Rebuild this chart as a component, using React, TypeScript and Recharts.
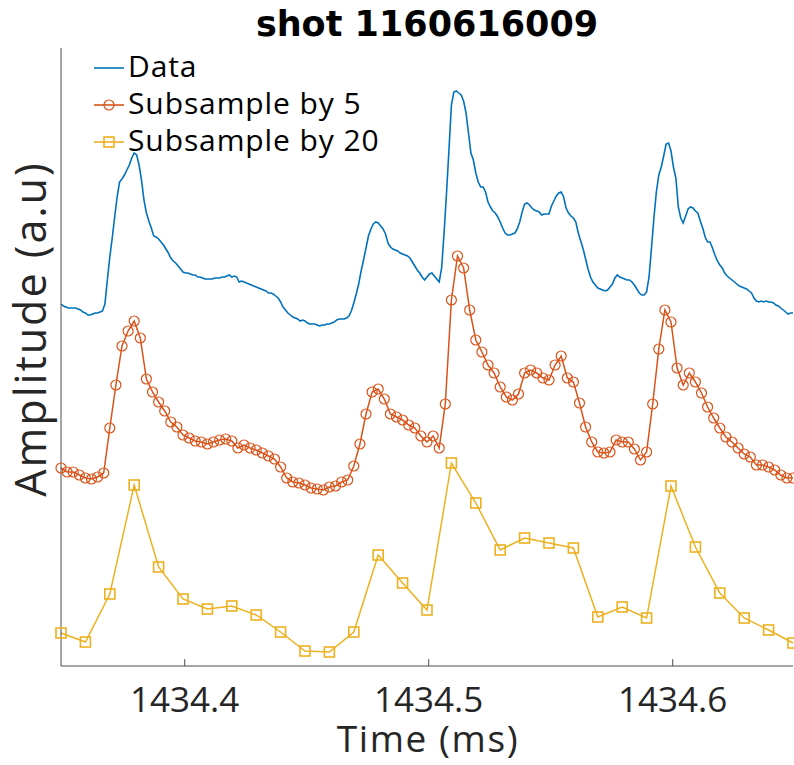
import { LineChart, Line, XAxis, YAxis } from "recharts"

// time axis (ms)
const T_START = 1434.3493
const DATA_STEP = 0.001 // raw trace listed every 2nd sample
const SUB5_STEP = 0.0025
const SUB20_STEP = 0.01
const xTicks = [1434.4, 1434.5, 1434.6]

// amplitude (a.u.), offset traces as plotted
const dataValues = [
  3.62, 3.6, 3.59, 3.58, 3.58, 3.58, 3.58, 3.57, 3.56, 3.54,
  3.53, 3.51, 3.51, 3.52, 3.53, 3.53, 3.54, 3.55, 3.62, 3.86,
  4.09, 4.28, 4.49, 4.69, 4.84, 4.87, 4.91, 4.96, 5.01, 5.08,
  5.13, 5.11, 5.01, 4.86, 4.66, 4.53, 4.45, 4.38, 4.3, 4.29,
  4.27, 4.24, 4.21, 4.17, 4.13, 4.08, 4.05, 4.03, 4.0, 3.97,
  3.94, 3.93, 3.93, 3.92, 3.91, 3.91, 3.89, 3.89, 3.88, 3.87,
  3.87, 3.87, 3.87, 3.88, 3.88, 3.88, 3.89, 3.89, 3.9, 3.91,
  3.89, 3.9, 3.89, 3.84, 3.85, 3.84, 3.83, 3.82, 3.81, 3.8,
  3.79, 3.78, 3.77, 3.76, 3.75, 3.73, 3.73, 3.72, 3.7, 3.68,
  3.64, 3.59, 3.56, 3.53, 3.51, 3.49, 3.48, 3.47, 3.45, 3.46,
  3.45, 3.43, 3.42, 3.42, 3.42, 3.41, 3.4, 3.41, 3.41, 3.42,
  3.42, 3.43, 3.44, 3.46, 3.47, 3.47, 3.47, 3.48, 3.5, 3.55,
  3.63, 3.72, 3.82, 3.95, 4.06, 4.18, 4.3, 4.37, 4.42, 4.44,
  4.43, 4.4, 4.37, 4.32, 4.23, 4.19, 4.17, 4.16, 4.15, 4.13,
  4.12, 4.11, 4.1, 4.08, 4.04, 4.0, 3.96, 3.93, 3.89, 3.86,
  3.89, 3.92, 3.93, 3.9, 3.87, 3.84, 3.98, 4.33, 4.73, 5.16,
  5.61, 5.74, 5.75, 5.73, 5.71, 5.65, 5.53, 5.33, 5.13, 5.06,
  4.93, 4.84, 4.79, 4.79, 4.74, 4.64, 4.59, 4.55, 4.53, 4.49,
  4.44, 4.38, 4.33, 4.31, 4.31, 4.32, 4.33, 4.37, 4.44, 4.54,
  4.62, 4.63, 4.61, 4.58, 4.56, 4.55, 4.54, 4.51, 4.52, 4.52,
  4.52, 4.6, 4.65, 4.7, 4.73, 4.74, 4.69, 4.58, 4.53, 4.5,
  4.48, 4.44, 4.33, 4.25, 4.17, 4.07, 3.97, 3.89, 3.84, 3.81,
  3.78, 3.77, 3.76, 3.75, 3.76, 3.79, 3.82, 3.88, 3.91, 3.89,
  3.88, 3.87, 3.86, 3.86, 3.84, 3.81, 3.77, 3.73, 3.71, 3.71,
  3.74, 3.89, 4.18, 4.48, 4.74, 4.91, 4.99, 5.1, 5.22, 5.23,
  5.15, 4.99, 4.88, 4.59, 4.48, 4.43, 4.5, 4.57, 4.59, 4.58,
  4.55, 4.53, 4.45, 4.38, 4.29, 4.24, 4.24, 4.18, 4.11, 4.05,
  4.01, 3.98, 3.93, 3.9, 3.88, 3.86, 3.84, 3.82, 3.8, 3.79,
  3.78, 3.77, 3.75, 3.73, 3.68, 3.65, 3.64, 3.65, 3.64, 3.65,
  3.64, 3.64, 3.63, 3.61, 3.6, 3.58, 3.56, 3.54, 3.52, 3.53,
  3.53,
]

const sub5Values = [
  1.98, 1.94, 1.94, 1.91, 1.88, 1.87, 1.89, 1.93, 2.38, 2.81,
  3.2, 3.35, 3.45, 3.28, 2.87, 2.74, 2.64, 2.55, 2.44, 2.39,
  2.31, 2.28, 2.25, 2.24, 2.22, 2.24, 2.26, 2.27, 2.25, 2.18,
  2.21, 2.18, 2.16, 2.13, 2.1, 2.07, 1.99, 1.88, 1.84, 1.83,
  1.81, 1.78, 1.77, 1.76, 1.79, 1.8, 1.84, 1.86, 2.0, 2.22,
  2.52, 2.74, 2.77, 2.67, 2.52, 2.49, 2.46, 2.41, 2.38, 2.3,
  2.24, 2.3, 2.18, 2.62, 3.66, 4.1, 3.98, 3.56, 3.26, 3.14,
  3.01, 2.93, 2.79, 2.69, 2.66, 2.72, 2.93, 2.96, 2.93, 2.88,
  2.86, 3.01, 3.1, 2.88, 2.84, 2.63, 2.39, 2.24, 2.14, 2.13,
  2.14, 2.26, 2.24, 2.24, 2.17, 2.06, 2.14, 2.62, 3.17, 3.56,
  3.44, 2.98, 2.81, 2.93, 2.84, 2.73, 2.59, 2.48, 2.38, 2.29,
  2.24, 2.18, 2.12, 2.09, 2.01, 2.01, 1.99, 1.96, 1.91, 1.88,
  1.88,
]

const sub20Values = [
  0.33, 0.24, 0.72, 1.81, 0.99, 0.67, 0.57, 0.6, 0.51, 0.34,
  0.15, 0.14, 0.34, 1.11, 0.83, 0.56, 2.03, 1.63, 1.16, 1.28,
  1.23, 1.18, 0.49, 0.59, 0.48, 1.8, 1.19, 0.73, 0.48, 0.36,
  0.23,
]

const BLUE = "#0072BD"
const ORANGE = "#D95319"
const YELLOW = "#EDB120"
const AXIS = "#4d4d4d"
const TEXT = "#262626"

const toRows = (vals: number[], step: number) =>
  vals.map((v, i) => ({ t: T_START + i * step, v }))

const dataRows = toRows(dataValues, DATA_STEP)
const sub5Rows = toRows(sub5Values, SUB5_STEP)
const sub20Rows = toRows(sub20Values, SUB20_STEP)

const X_DOMAIN: [number, number] = [T_START, T_START + 0.3]

function BottomTick({ x, y, payload }: any) {
  return (
    <g>
      <line x1={x} y1={y} x2={x} y2={y - 7} stroke={AXIS} />
      <text x={x} y={y + 46} textAnchor="middle" fontSize={35} fill={TEXT} fontFamily="Open Sans">
        {payload.value}
      </text>
    </g>
  )
}

function TopTick({ x, y }: any) {
  return <line x1={x} y1={y} x2={x} y2={y + 7} stroke={AXIS} />
}

function SquareDot(props: any) {
  const { cx, cy, index } = props
  if (cx == null || cy == null) return null
  return (
    <rect key={index} x={cx - 5} y={cy - 5} width={10} height={10} fill="none" stroke={YELLOW} strokeWidth={1.6} />
  )
}

const legendItems = [
  { label: "Data", color: BLUE, marker: "none" },
  { label: "Subsample by 5", color: ORANGE, marker: "circle" },
  { label: "Subsample by 20", color: YELLOW, marker: "square" },
]

export default function App() {
  return (
    <div style={{ position: "absolute", left: 0, top: 0, width: 794, height: 765, overflow: "hidden", background: "#fff" }}>
      <LineChart width={794} height={765} margin={{ top: 48, right: 0, bottom: 0, left: 0 }}>
        <XAxis
          xAxisId="b"
          type="number"
          dataKey="t"
          domain={X_DOMAIN}
          ticks={xTicks}
          tick={<BottomTick />}
          tickLine={false}
          tickSize={0}
          tickMargin={0}
          height={99}
          axisLine={{ stroke: AXIS }}
        />
        <XAxis
          xAxisId="t"
          orientation="top"
          type="number"
          dataKey="t"
          domain={X_DOMAIN}
          allowDataOverflow
          ticks={xTicks}
          tick={<TopTick />}
          tickLine={false}
          tickSize={0}
          tickMargin={0}
          height={0}
          axisLine={{ stroke: AXIS }}
        />
        <YAxis yAxisId="l" domain={[0, 6.18]} width={61} tick={false} tickLine={false} axisLine={{ stroke: AXIS }} />
        <YAxis yAxisId="r" orientation="right" domain={[0, 6.18]} width={1} tick={false} tickLine={false} axisLine={false} />
        <Line
          xAxisId="b"
          yAxisId="l"
          data={dataRows}
          dataKey="v"
          type="linear"
          stroke={BLUE}
          strokeWidth={1.6}
          dot={false}
          isAnimationActive={false}
        />
        <Line
          xAxisId="b"
          yAxisId="l"
          data={sub5Rows}
          dataKey="v"
          type="linear"
          stroke={ORANGE}
          strokeWidth={1.5}
          dot={{ r: 5, fill: "none", stroke: ORANGE, strokeWidth: 1.2 }}
          isAnimationActive={false}
        />
        <Line
          xAxisId="b"
          yAxisId="l"
          data={sub20Rows}
          dataKey="v"
          type="linear"
          stroke={YELLOW}
          strokeWidth={1.5}
          dot={<SquareDot />}
          isAnimationActive={false}
        />
      </LineChart>

      <svg width={794} height={765} style={{ position: "absolute", left: 0, top: 0, pointerEvents: "none" }}>
        <text x={427} y={36} textAnchor="middle" fontSize={35} fontWeight="bold" fill="#000" fontFamily="DejaVu Sans">
          shot 1160616009
        </text>
        <text x={428} y={752} textAnchor="middle" fontSize={37} letterSpacing={1.6} fill={TEXT} fontFamily="Open Sans">
          Time (ms)
        </text>
        <text
          transform="translate(46,329) rotate(-90)"
          textAnchor="middle"
          fontSize={43}
          letterSpacing={2}
          fill={TEXT}
          fontFamily="Open Sans"
        >
          Amplitude (a.u)
        </text>
        {legendItems.map((item, i) => {
          const base = 77 + i * 37
          const ly = base - 9
          return (
            <g key={item.label}>
              <line x1={94} y1={ly} x2={124} y2={ly} stroke={item.color} strokeWidth={1.6} />
              {item.marker === "circle" && <circle cx={109} cy={ly} r={5} fill="none" stroke={item.color} strokeWidth={1.2} />}
              {item.marker === "square" && (
                <rect x={104} y={ly - 5} width={10} height={10} fill="none" stroke={item.color} strokeWidth={1.6} />
              )}
              <text x={128} y={base} fontSize={30} letterSpacing={0.9} fill="#000" fontFamily="Open Sans">
                {item.label}
              </text>
            </g>
          )
        })}
      </svg>
    </div>
  )
}
